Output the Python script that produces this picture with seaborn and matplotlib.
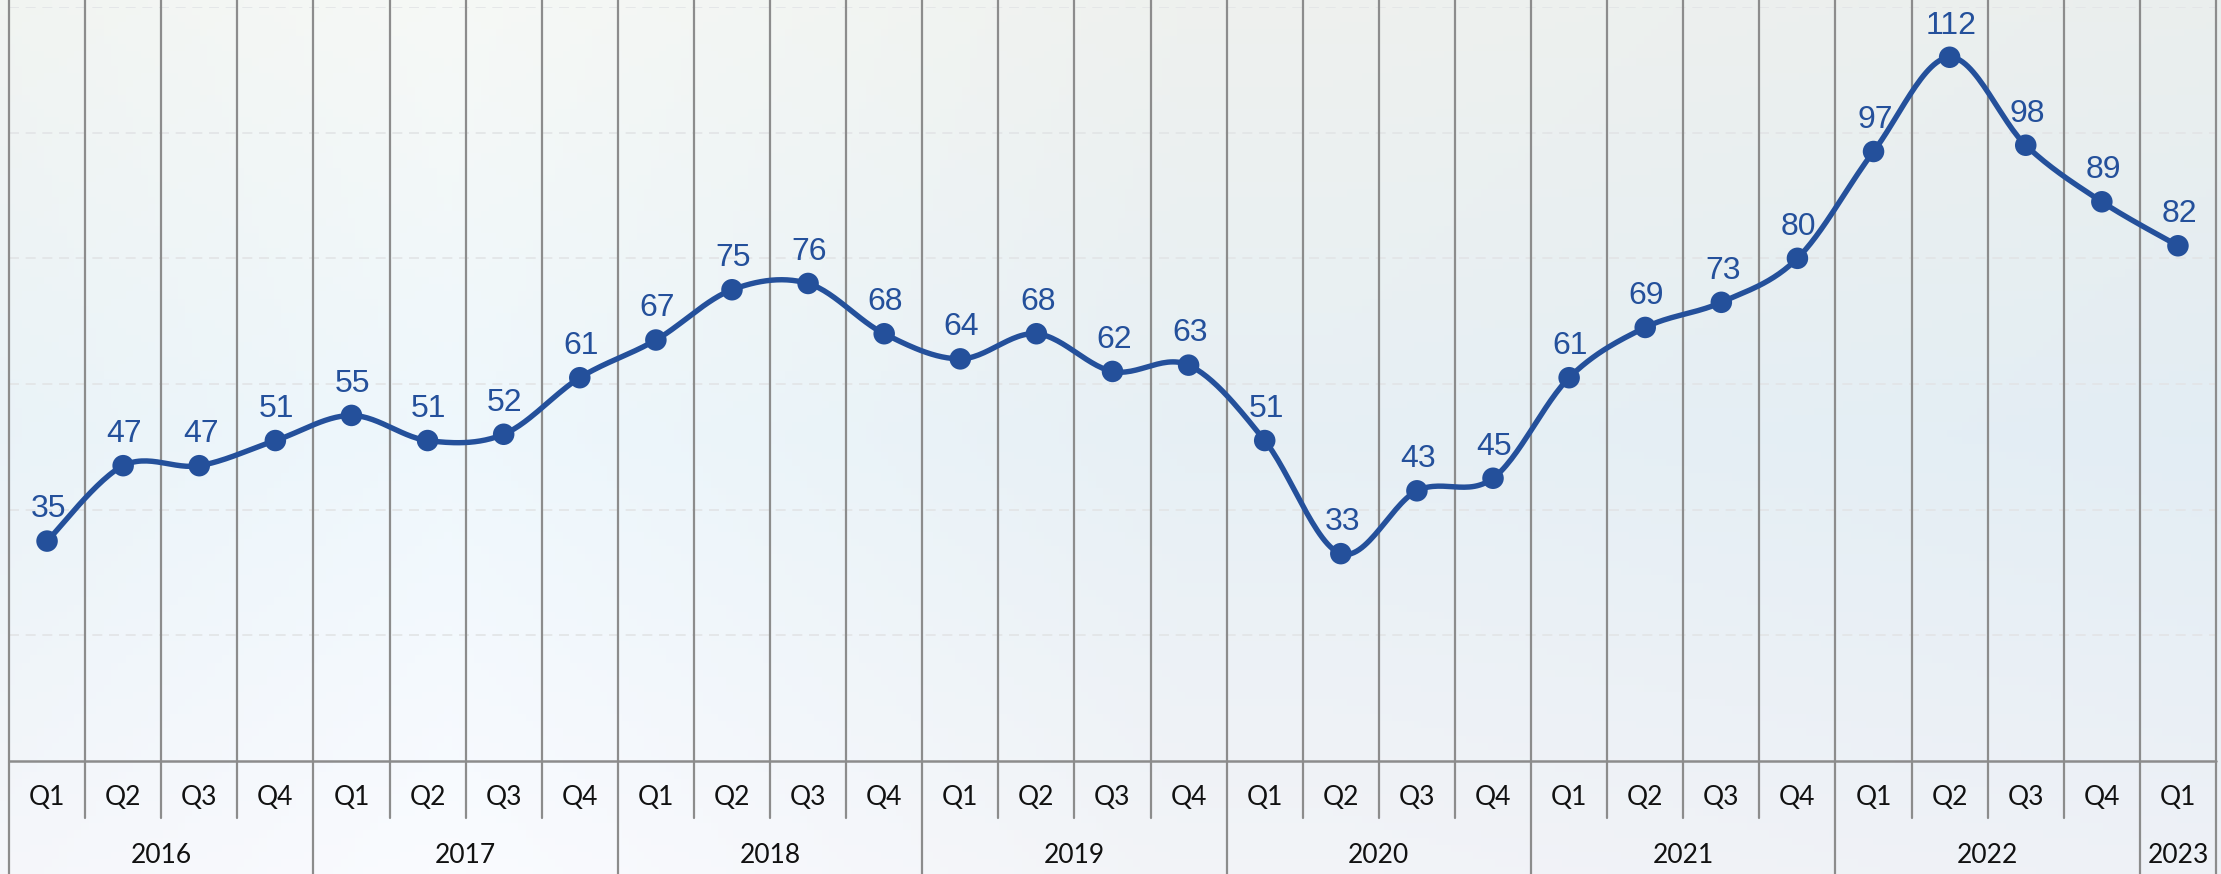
import numpy as np
import pandas as pd
import seaborn as sns
import matplotlib.pyplot as plt
import matplotlib.transforms as mtransforms

# data
years = ["2016", "2017", "2018", "2019", "2020", "2021", "2022", "2023"]
quarters = ["Q1", "Q2", "Q3", "Q4"] * 7 + ["Q1"]
values = [35, 47, 47, 51, 55, 51, 52, 61, 67, 75, 76, 68, 64, 68, 62, 63,
          51, 33, 43, 45, 61, 69, 73, 80, 97, 112, 98, 89, 82]
year_sizes = [4, 4, 4, 4, 4, 4, 4, 1]

df = pd.DataFrame({"idx": np.arange(len(values)), "quarter": quarters, "value": values})

# Excel-like smoothed line (cubic bezier, tension 1/6)
def smooth(x, y, n=30):
    x = np.asarray(x, float)
    y = np.asarray(y, float)
    px = np.concatenate([[x[0]], x, [x[-1]]])
    py = np.concatenate([[y[0]], y, [y[-1]]])
    sx, sy = [], []
    t = np.linspace(0, 1, n)
    for i in range(1, len(px) - 2):
        p0 = np.array([px[i], py[i]])
        p3 = np.array([px[i + 1], py[i + 1]])
        c1 = p0 + (np.array([px[i + 1], py[i + 1]]) - np.array([px[i - 1], py[i - 1]])) / 6
        c2 = p3 - (np.array([px[i + 2], py[i + 2]]) - p0) / 6
        pts = ((1 - t) ** 3)[:, None] * p0 + (3 * (1 - t) ** 2 * t)[:, None] * c1 \
            + (3 * (1 - t) * t ** 2)[:, None] * c2 + (t ** 3)[:, None] * p3
        sx.extend(pts[:, 0])
        sy.extend(pts[:, 1])
    return np.array(sx), np.array(sy)

sx, sy = smooth(df["idx"], df["value"])

sns.set_theme(style="white")
plt.rcParams['font.family'] = ['Liberation Sans', 'DejaVu Sans']

W, H = 2221, 874
fig = plt.figure(figsize=(W / 100, H / 100), dpi=100)

# soft background
bg = fig.add_axes([0, 0, 1, 1], zorder=-10)
gy, gx = np.mgrid[0:1:120j, 0:1:300j]
c_top = np.array([0.935, 0.945, 0.935])
c_mid = np.array([0.905, 0.940, 0.960])
c_bot = np.array([0.950, 0.955, 0.970])
w = np.clip(gy * 2, 0, 1)[..., None]
img = c_top * (1 - w) + c_mid * w
w2 = np.clip((gy - 0.5) * 2, 0, 1)[..., None]
img = img * (1 - w2) + c_bot * w2
img = img + (np.clip(1 - np.abs(gx - 0.2) * 3, 0, 1) * 0.03)[..., None]
img = img - (np.clip(gx - 0.6, 0, 1) * 0.04)[..., None] * np.array([1, 0.6, 0.2])
bg.imshow(np.clip(img, 0, 1), aspect="auto", extent=[0, 1, 0, 1])
bg.axis("off")

left, right = 9 / W, 2216 / W
bottom, top = (H - 761) / H, (H - 7) / H
ax = fig.add_axes([left, bottom, right - left, top - bottom])
ax.patch.set_alpha(0)

line_color = "#24509b"
sns.lineplot(x=sx, y=sy, sort=False, color=line_color, linewidth=3.9, ax=ax, zorder=3)
sns.scatterplot(data=df, x="idx", y="value", color=line_color, s=240, edgecolor="none", ax=ax, zorder=4)

for i, v in zip(df["idx"], df["value"]):
    ax.annotate(str(v), (i, v), xytext=(1, 12), textcoords="offset points",
                ha="center", va="bottom", fontsize=23, color=line_color, zorder=5)

n = len(values)
ax.set_xlim(-0.5, n - 0.5)
ax.set_ylim(0, 120)

# horizontal dashed grid
for yv in range(20, 121, 20):
    ax.axhline(yv, color="#e2e4e6", linewidth=1.2, linestyle=(0, (6, 4)), zorder=1)

# vertical category separators
trans = mtransforms.blended_transform_factory(ax.transData, ax.transAxes)
year_edges = np.concatenate([[0], np.cumsum(year_sizes)]) - 0.5
for b in np.arange(-0.5, n, 1.0):
    lo = -0.075
    if np.any(np.isclose(year_edges, b)):
        lo = -0.16
    ax.plot([b, b], [lo, 1.01], transform=trans, color="#8c8c8c", linewidth=1.6,
            clip_on=False, zorder=2)

ax.plot([-0.5, n - 0.5], [0, 0], transform=trans, color="#8c8c8c", linewidth=1.8,
        clip_on=False, zorder=2)

for i, q in enumerate(quarters):
    ax.text(i, -0.049, q, transform=trans, ha="center", va="center",
            fontsize=19, family=["Lato", "DejaVu Sans"], color="#111111")

for k, yr in enumerate(years):
    center = (year_edges[k] + year_edges[k + 1]) / 2
    ax.text(center, -0.125, yr, transform=trans, ha="center", va="center",
            fontsize=19, family=["Lato", "DejaVu Sans"], color="#111111")

ax.set_xticks([])
ax.set_yticks([])
ax.set_xlabel("")
ax.set_ylabel("")
for s in ax.spines.values():
    s.set_visible(False)

fig.savefig("out.png", dpi=100)
